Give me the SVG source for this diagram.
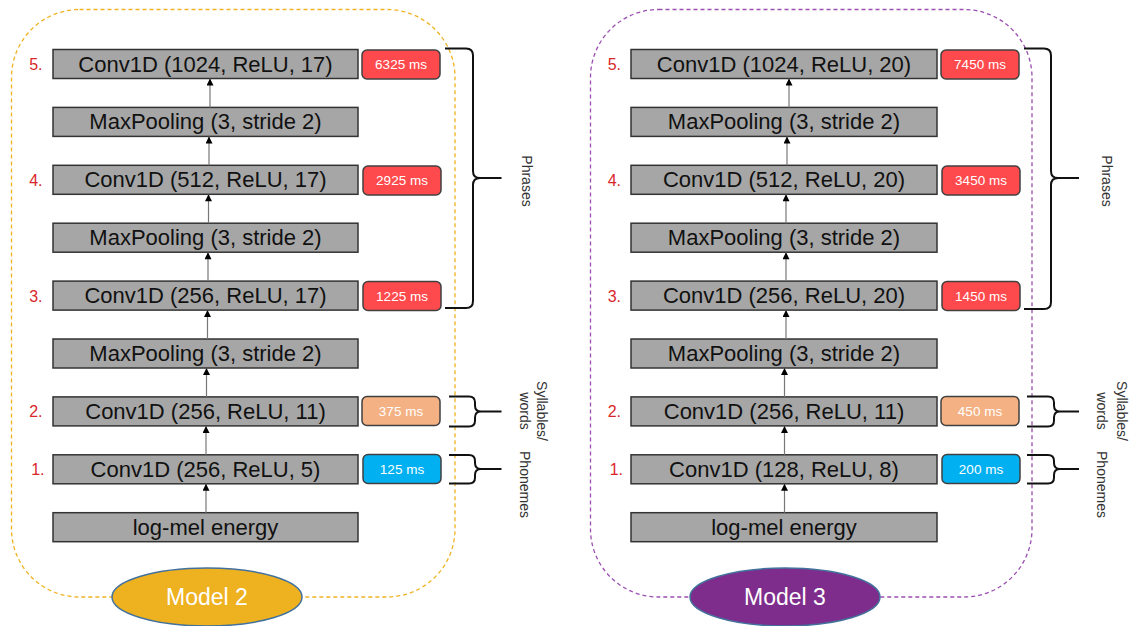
<svg xmlns="http://www.w3.org/2000/svg" width="1134" height="626" viewBox="0 0 1134 626">
<style>
.frame2{fill:none;stroke:#f0b323;stroke-width:1.3;stroke-dasharray:4 3}
.frame3{fill:none;stroke:#9b4fb0;stroke-width:1.3;stroke-dasharray:4 3}
.layer rect{fill:#a6a6a6;stroke:#333;stroke-width:1.5}
.layer text{font-family:"Liberation Sans",Arial,sans-serif;font-size:22px;fill:#111;text-anchor:middle;dominant-baseline:central}
.num{font-family:"Liberation Sans",Arial,sans-serif;font-size:16px;fill:#d9262b;text-anchor:end;dominant-baseline:central}
.ms rect{stroke:#404040;stroke-width:1.5}
.ms text{font-family:"Liberation Sans",Arial,sans-serif;font-size:13.5px;fill:#fff;text-anchor:middle;dominant-baseline:central}
.red{fill:#fe4a4d}.org{fill:#f4b183}.blu{fill:#00b0f0}
.brace{fill:none;stroke:#111;stroke-width:2}
.side{font-family:"Liberation Sans",Arial,sans-serif;font-size:14px;fill:#333;text-anchor:middle;dominant-baseline:central}
.model{font-family:"Liberation Sans",Arial,sans-serif;font-size:23px;fill:#fff;text-anchor:middle;dominant-baseline:central}
.conn line{stroke:#777;stroke-width:1.2}
</style>
<defs>
<marker id="ah" viewBox="0 0 10 10" refX="10" refY="5" markerUnits="userSpaceOnUse" markerWidth="8" markerHeight="7" orient="auto">
<path d="M0,0 L10,5 L0,10 z" fill="#000"/>
</marker>
</defs>

<!-- Model 2 -->
<g id="model2-frame">
<rect class="frame2" x="11.5" y="9.5" width="443.5" height="587.5" rx="68" ry="68"/>
</g>
<g id="m2-conv5" class="layer"><rect x="53" y="49.5" width="305" height="29"/><text x="205.5" y="64">Conv1D (1024, ReLU, 17)</text></g>
<g id="m2-pool4" class="layer"><rect x="53" y="107.4" width="305" height="29"/><text x="205.5" y="121.9">MaxPooling (3, stride 2)</text></g>
<g id="m2-conv4" class="layer"><rect x="53" y="165.3" width="305" height="29"/><text x="205.5" y="179.8">Conv1D (512, ReLU, 17)</text></g>
<g id="m2-pool3" class="layer"><rect x="53" y="223.2" width="305" height="29"/><text x="205.5" y="237.7">MaxPooling (3, stride 2)</text></g>
<g id="m2-conv3" class="layer"><rect x="53" y="281.1" width="305" height="29"/><text x="205.5" y="295.6">Conv1D (256, ReLU, 17)</text></g>
<g id="m2-pool2" class="layer"><rect x="53" y="339" width="305" height="29"/><text x="205.5" y="353.5">MaxPooling (3, stride 2)</text></g>
<g id="m2-conv2" class="layer"><rect x="53" y="396.9" width="305" height="29"/><text x="205.5" y="411.4">Conv1D (256, ReLU, 11)</text></g>
<g id="m2-conv1" class="layer"><rect x="53" y="454.8" width="305" height="29"/><text x="205.5" y="469.3">Conv1D (256, ReLU, 5)</text></g>
<g id="m2-input" class="layer"><rect x="53" y="512.7" width="305" height="29"/><text x="205.5" y="527.2">log-mel energy</text></g>

<g id="m2-nums">
<text class="num" x="42.5" y="64.5">5.</text>
<text class="num" x="42.5" y="180.3">4.</text>
<text class="num" x="42.5" y="296.1">3.</text>
<text class="num" x="42.5" y="411.9">2.</text>
<text class="num" x="44.5" y="469.8">1.</text>
</g>

<g id="m2-ms5" class="ms"><rect class="red" x="362" y="50" width="78" height="29" rx="5"/><text x="401" y="64.5">6325 ms</text></g>
<g id="m2-ms4" class="ms"><rect class="red" x="363" y="166" width="78" height="29" rx="5"/><text x="402" y="180.5">2925 ms</text></g>
<g id="m2-ms3" class="ms"><rect class="red" x="363" y="281.5" width="78" height="29" rx="5"/><text x="402" y="296">1225 ms</text></g>
<g id="m2-ms2" class="ms"><rect class="org" x="362" y="396.5" width="78" height="29" rx="5"/><text x="401" y="411">375 ms</text></g>
<g id="m2-ms1" class="ms"><rect class="blu" x="363" y="454.5" width="78" height="29" rx="5"/><text x="402" y="469">125 ms</text></g>

<g id="m2-phrases">
<path class="brace" d="M445,48.5 L466,48.5 Q473,48.5 473,55.5 L473,171 Q473,178 480,178 L501.5,178 L480,178 Q473,178 473,185 L473,301 Q473,308 466,308 L445,308"/>
<text class="side" transform="translate(527,181) rotate(90)">Phrases</text>
</g>
<g id="m2-syllables">
<path class="brace" d="M449,396.5 L469,396.5 Q475,396.5 475,402.5 L475,405.5 Q475,411.5 481,411.5 L501.5,411.5 L481,411.5 Q475,411.5 475,417.5 L475,420.5 Q475,426.5 469,426.5 L449,426.5"/>
<text class="side" transform="translate(533.5,411) rotate(90)"><tspan x="0" dy="-8.5">Syllables/</tspan><tspan x="0" dy="17">words</tspan></text>
</g>
<g id="m2-phonemes">
<path class="brace" d="M449,455 L469,455 Q475,455 475,461 L475,463 Q475,469 481,469 L501.5,469 L481,469 Q475,469 475,475 L475,477.5 Q475,483.5 469,483.5 L449,483.5"/>
<text class="side" transform="translate(525,484.5) rotate(90)">Phonemes</text>
</g>

<g id="model2-label">
<ellipse cx="207" cy="597" rx="95" ry="29" fill="#eeb11f" stroke="#41719c" stroke-width="1.5"/>
<text class="model" x="207" y="597">Model 2</text>
</g>

<!-- Model 3 -->
<g id="model3-frame">
<rect class="frame3" x="590.5" y="9.5" width="441.5" height="587.5" rx="68" ry="68"/>
</g>
<g id="m3-conv5" class="layer"><rect x="631" y="49.5" width="306" height="29"/><text x="784" y="64">Conv1D (1024, ReLU, 20)</text></g>
<g id="m3-pool4" class="layer"><rect x="631" y="107.4" width="306" height="29"/><text x="784" y="121.9">MaxPooling (3, stride 2)</text></g>
<g id="m3-conv4" class="layer"><rect x="631" y="165.3" width="306" height="29"/><text x="784" y="179.8">Conv1D (512, ReLU, 20)</text></g>
<g id="m3-pool3" class="layer"><rect x="631" y="223.2" width="306" height="29"/><text x="784" y="237.7">MaxPooling (3, stride 2)</text></g>
<g id="m3-conv3" class="layer"><rect x="631" y="281.1" width="306" height="29"/><text x="784" y="295.6">Conv1D (256, ReLU, 20)</text></g>
<g id="m3-pool2" class="layer"><rect x="631" y="339" width="306" height="29"/><text x="784" y="353.5">MaxPooling (3, stride 2)</text></g>
<g id="m3-conv2" class="layer"><rect x="631" y="396.9" width="306" height="29"/><text x="784" y="411.4">Conv1D (256, ReLU, 11)</text></g>
<g id="m3-conv1" class="layer"><rect x="631" y="454.8" width="306" height="29"/><text x="784" y="469.3">Conv1D (128, ReLU, 8)</text></g>
<g id="m3-input" class="layer"><rect x="631" y="512.7" width="306" height="29"/><text x="784" y="527.2">log-mel energy</text></g>

<g id="m3-nums">
<text class="num" x="621" y="64.5">5.</text>
<text class="num" x="621" y="180.3">4.</text>
<text class="num" x="621" y="296.1">3.</text>
<text class="num" x="621" y="411.9">2.</text>
<text class="num" x="623" y="469.8">1.</text>
</g>

<g id="m3-ms5" class="ms"><rect class="red" x="941" y="50" width="78" height="29" rx="5"/><text x="980" y="64.5">7450 ms</text></g>
<g id="m3-ms4" class="ms"><rect class="red" x="942" y="166" width="78" height="29" rx="5"/><text x="981" y="180.5">3450 ms</text></g>
<g id="m3-ms3" class="ms"><rect class="red" x="942" y="281.5" width="78" height="29" rx="5"/><text x="981" y="296">1450 ms</text></g>
<g id="m3-ms2" class="ms"><rect class="org" x="941" y="396.5" width="78" height="29" rx="5"/><text x="980" y="411">450 ms</text></g>
<g id="m3-ms1" class="ms"><rect class="blu" x="942" y="454.5" width="78" height="29" rx="5"/><text x="981" y="469">200 ms</text></g>

<g id="m3-phrases">
<path class="brace" d="M1024,48.5 L1044,48.5 Q1051,48.5 1051,55.5 L1051,171 Q1051,178 1058,178 L1079,178 L1058,178 Q1051,178 1051,185 L1051,302 Q1051,309 1044,309 L1024,309"/>
<text class="side" transform="translate(1107,181) rotate(90)">Phrases</text>
</g>
<g id="m3-syllables">
<path class="brace" d="M1027,396.5 L1048,396.5 Q1054,396.5 1054,402.5 L1054,405.5 Q1054,411.5 1060,411.5 L1079,411.5 L1060,411.5 Q1054,411.5 1054,417.5 L1054,420.5 Q1054,426.5 1048,426.5 L1027,426.5"/>
<text class="side" transform="translate(1112,411) rotate(90)"><tspan x="0" dy="-10">Syllables/</tspan><tspan x="0" dy="20">words</tspan></text>
</g>
<g id="m3-phonemes">
<path class="brace" d="M1027,455 L1048,455 Q1054,455 1054,461 L1054,463 Q1054,469 1060,469 L1079,469 L1060,469 Q1054,469 1054,475 L1054,477.5 Q1054,483.5 1048,483.5 L1027,483.5"/>
<text class="side" transform="translate(1102,484.5) rotate(90)">Phonemes</text>
</g>

<g id="model3-label">
<ellipse cx="785" cy="597" rx="95" ry="29" fill="#7e2d8c" stroke="#41719c" stroke-width="1.5"/>
<text class="model" x="785" y="597">Model 3</text>
</g>

<g id="connectors" class="conn">
<line x1="206" y1="512.7" x2="206" y2="483.8" marker-end="url(#ah)"/>
<line x1="206" y1="454.8" x2="206" y2="425.9" marker-end="url(#ah)"/>
<line x1="206.5" y1="396.9" x2="206.5" y2="368" marker-end="url(#ah)"/>
<line x1="207.5" y1="339" x2="207.5" y2="310.1" marker-end="url(#ah)"/>
<line x1="208" y1="281.1" x2="208" y2="252.2" marker-end="url(#ah)"/>
<line x1="208.5" y1="223.2" x2="208.5" y2="194.3" marker-end="url(#ah)"/>
<line x1="209" y1="165.3" x2="209" y2="136.4" marker-end="url(#ah)"/>
<line x1="210" y1="107.4" x2="210" y2="78.5" marker-end="url(#ah)"/>
<line x1="784.5" y1="512.7" x2="784.5" y2="483.8" marker-end="url(#ah)"/>
<line x1="784.5" y1="454.8" x2="784.5" y2="425.9" marker-end="url(#ah)"/>
<line x1="784.5" y1="396.9" x2="784.5" y2="368" marker-end="url(#ah)"/>
<line x1="786" y1="339" x2="786" y2="310.1" marker-end="url(#ah)"/>
<line x1="786" y1="281.1" x2="786" y2="252.2" marker-end="url(#ah)"/>
<line x1="786" y1="223.2" x2="786" y2="194.3" marker-end="url(#ah)"/>
<line x1="787" y1="165.3" x2="787" y2="136.4" marker-end="url(#ah)"/>
<line x1="789" y1="107.4" x2="789" y2="78.5" marker-end="url(#ah)"/>
</g>
</svg>
